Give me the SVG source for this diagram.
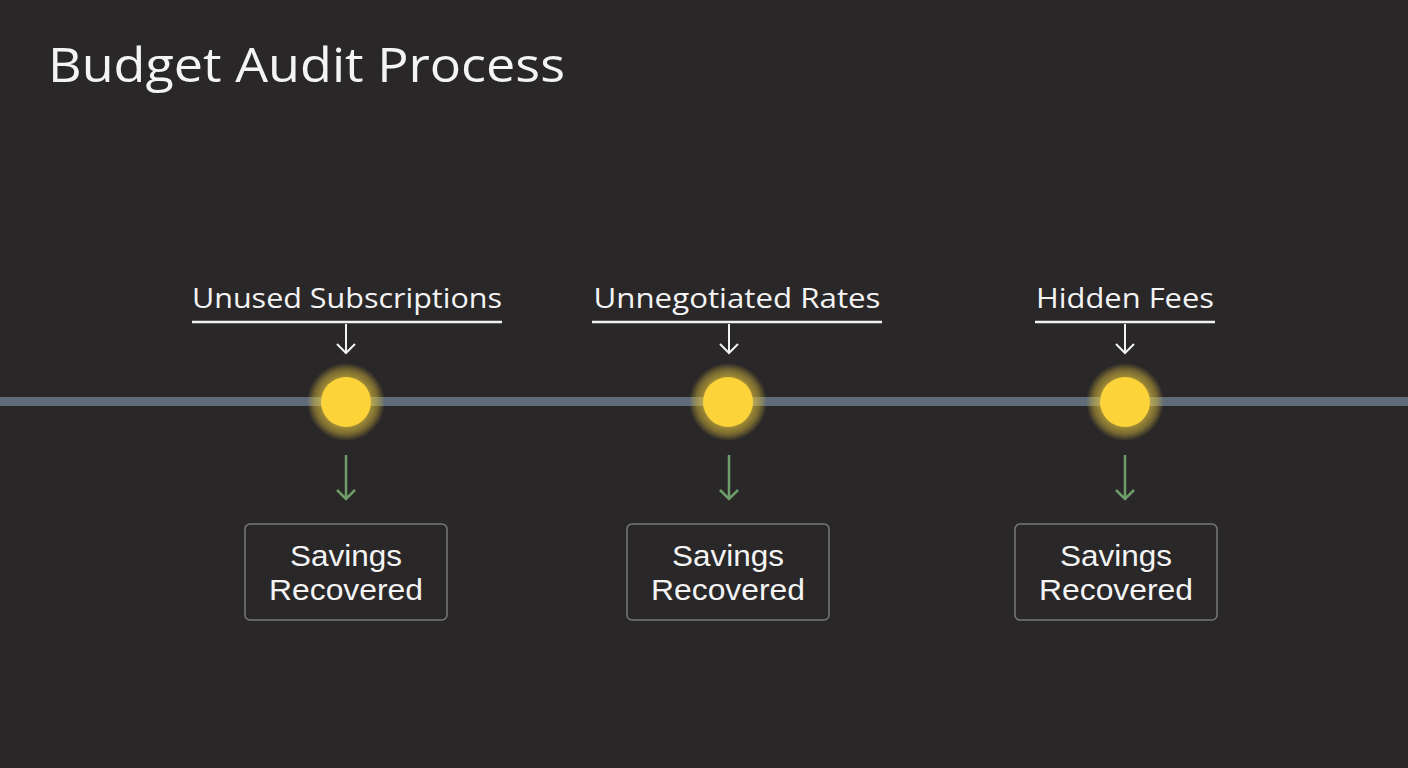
<svg xmlns="http://www.w3.org/2000/svg" width="1408" height="768" viewBox="0 0 1408 768">
<defs>
<style>
.t{font-family:"Open Sans","Liberation Sans",sans-serif;fill:#f4f4f4}
.lab{font-size:28px;text-anchor:middle}
.bx{font-family:"Liberation Sans",Arial,sans-serif;font-size:29px;fill:#f4f4f4;text-anchor:middle}
.box{fill:none;stroke:#77777a;stroke-width:1.5}
.ul{stroke:#f2f2f2;stroke-width:2.5}
.wa{stroke:#f2f2f2;stroke-width:2;fill:none}
.ga{stroke:#6f9d69;stroke-width:2.5;fill:none}
</style>
<radialGradient id="glow" cx="0.5" cy="0.5" r="0.5">
<stop offset="0.6" stop-color="#f0d040" stop-opacity="0.65"/>
<stop offset="0.82" stop-color="#d8bb3a" stop-opacity="0.45"/>
<stop offset="1" stop-color="#d8bb3a" stop-opacity="0"/>
</radialGradient>
</defs>
<rect width="1408" height="768" fill="#2a2729"/>
<text class="t" x="48" y="82" font-size="47" textLength="517" lengthAdjust="spacingAndGlyphs">Budget Audit Process</text>
<g id="connectors">
<rect x="0" y="397" width="1408" height="9" fill="#5f6b78"/>
<path class="wa" d="M346 324V353M337 344L346 353L355 344"/>
<path class="wa" d="M729 324V353M720 344L729 353L738 344"/>
<path class="wa" d="M1125 324V353M1116 344L1125 353L1134 344"/>
<path class="ga" d="M346 455V499M337 490L346 499L355 490"/>
<path class="ga" d="M729 455V499M720 490L729 499L738 490"/>
<path class="ga" d="M1125 455V499M1116 490L1125 499L1134 490"/>
</g>
<g id="node-unused">
<text class="t lab" x="347" y="308" textLength="310" lengthAdjust="spacingAndGlyphs">Unused Subscriptions</text>
<line class="ul" x1="192" y1="322" x2="502" y2="322"/>
<circle cx="346" cy="402" r="39" fill="url(#glow)"/>
<circle cx="346" cy="402" r="25" fill="#fdd33a"/>
</g>
<g id="node-rates">
<text class="t lab" x="737" y="308" textLength="287" lengthAdjust="spacingAndGlyphs">Unnegotiated Rates</text>
<line class="ul" x1="592" y1="322" x2="882" y2="322"/>
<circle cx="728" cy="402" r="39" fill="url(#glow)"/>
<circle cx="728" cy="402" r="25" fill="#fdd33a"/>
</g>
<g id="node-fees">
<text class="t lab" x="1125" y="308" textLength="178" lengthAdjust="spacingAndGlyphs">Hidden Fees</text>
<line class="ul" x1="1035" y1="322" x2="1215" y2="322"/>
<circle cx="1125" cy="402" r="39" fill="url(#glow)"/>
<circle cx="1125" cy="402" r="25" fill="#fdd33a"/>
</g>
<g id="node-savings1">
<rect class="box" x="245" y="524" width="202" height="96" rx="5"/>
<text class="bx" x="346" y="566" textLength="112" lengthAdjust="spacingAndGlyphs">Savings</text>
<text class="bx" x="346" y="600" textLength="154" lengthAdjust="spacingAndGlyphs">Recovered</text>
</g>
<g id="node-savings2">
<rect class="box" x="627" y="524" width="202" height="96" rx="5"/>
<text class="bx" x="728" y="566" textLength="112" lengthAdjust="spacingAndGlyphs">Savings</text>
<text class="bx" x="728" y="600" textLength="154" lengthAdjust="spacingAndGlyphs">Recovered</text>
</g>
<g id="node-savings3">
<rect class="box" x="1015" y="524" width="202" height="96" rx="5"/>
<text class="bx" x="1116" y="566" textLength="112" lengthAdjust="spacingAndGlyphs">Savings</text>
<text class="bx" x="1116" y="600" textLength="154" lengthAdjust="spacingAndGlyphs">Recovered</text>
</g>
</svg>
